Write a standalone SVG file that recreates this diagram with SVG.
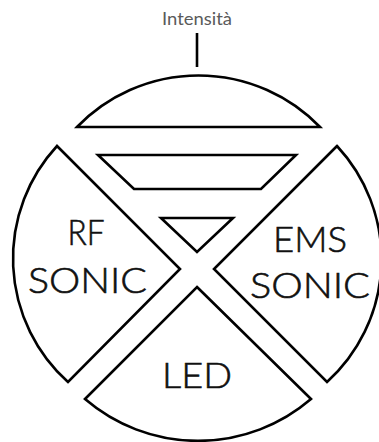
<svg xmlns="http://www.w3.org/2000/svg" width="379" height="442" viewBox="0 0 379 442">
<style>
.sh{fill:#fff;stroke:#000;stroke-width:2.6;stroke-linejoin:miter}
.lbl{font-family:Lato,"Liberation Sans",sans-serif;font-weight:300;font-size:36px;fill:#111;stroke:#111;stroke-width:0.6;text-anchor:middle}
.ttl{font-family:Lato,"Liberation Sans",sans-serif;font-size:18px;fill:#5a5a5a;text-anchor:middle}
.con{stroke:#000;stroke-width:2.6;fill:none}
</style>
<rect width="379" height="442" fill="#fff"/>
<g id="connectors">
<path class="con" d="M197,33 L197,67"/>
</g>
<g id="intensita">
<text class="ttl" x="197" y="25" textLength="70" lengthAdjust="spacingAndGlyphs">Intensità</text>
</g>
<g id="cap">
<path class="sh" d="M77,127 A169,169 0 0 1 320,127 Z"/>
</g>
<g id="trapezoid">
<path class="sh" d="M98,155 L296,155 L261,189 L134,189 Z"/>
</g>
<g id="triangle">
<path class="sh" d="M161,218 L233,218 L197,252 Z"/>
</g>
<g id="rf-sonic">
<path class="sh" d="M57,146 L180,269 L68,382 A166,166 0 0 1 57,146 Z"/>
<text class="lbl" x="86" y="245" textLength="37" lengthAdjust="spacingAndGlyphs">RF</text>
<text class="lbl" x="87.5" y="293" textLength="119" lengthAdjust="spacingAndGlyphs">SONIC</text>
</g>
<g id="ems-sonic">
<path class="sh" d="M337,146 L214,269 L327,382 A166,166 0 0 0 337,146 Z"/>
<text class="lbl" x="310" y="252" textLength="74" lengthAdjust="spacingAndGlyphs">EMS</text>
<text class="lbl" x="310" y="298" textLength="120" lengthAdjust="spacingAndGlyphs">SONIC</text>
</g>
<g id="led">
<path class="sh" d="M197,287 L311,399 A173.5,173.5 0 0 1 85,399 Z"/>
<text class="lbl" x="197" y="388" textLength="70" lengthAdjust="spacingAndGlyphs">LED</text>
</g>
</svg>
